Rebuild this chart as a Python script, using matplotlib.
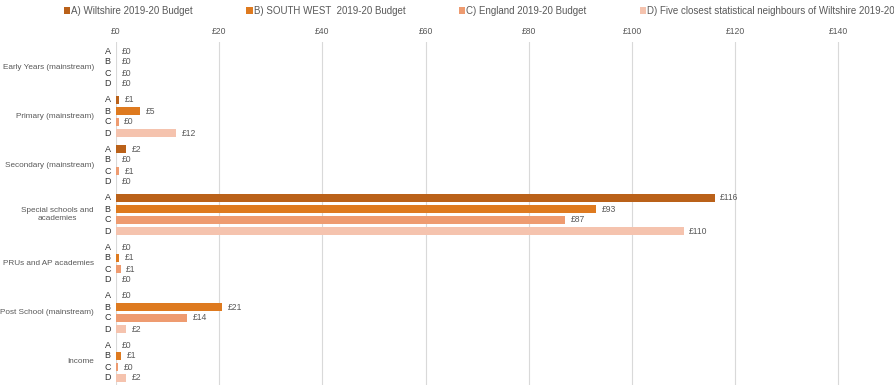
import matplotlib.pyplot as plt
import numpy as np

plt.rcParams['font.family'] = ['Liberation Sans', 'DejaVu Sans']

categories = ['Early Years (mainstream)', 'Primary (mainstream)', 'Secondary (mainstream)',
              'Special schools and\nacademies', 'PRUs and AP academies',
              'Post School (mainstream)', 'Income']
series = ['A) Wiltshire 2019-20 Budget', 'B) SOUTH WEST  2019-20 Budget',
          'C) England 2019-20 Budget',
          'D) Five closest statistical neighbours of Wiltshire 2019-20 Budget']
letters = ['A', 'B', 'C', 'D']

wiltshire = [0.0, 0.6, 2.0, 116.0, 0.0, 0.0, 0.0]
south_west = [0.0, 4.6, 0.0, 93.0, 0.6, 20.6, 1.0]
england = [0.0, 0.5, 0.6, 87.0, 0.9, 13.8, 0.4]
neighbours = [0.0, 11.6, 0.0, 110.0, 0.0, 2.0, 2.0]

colors = ['#BA6119', '#DE7A1F', '#EE9B70', '#F5C3AE']
values = [wiltshire, south_west, england, neighbours]

fig = plt.figure(figsize=(8.94, 3.85), dpi=100)
ax = fig.add_axes([116 / 894, 0, 774 / 894, 343 / 385])

group_gap = 49
bar_gap = 11
for j, (vals, col, lab) in enumerate(zip(values, colors, series)):
    ys = np.arange(len(categories)) * group_gap + j * bar_gap
    ax.barh(ys, vals, height=8, color=col, label=lab, zorder=2)
    for y, v in zip(ys, vals):
        ax.annotate(f'£{v:.0f}', xy=(v, y), xytext=(4, 0), textcoords='offset points',
                    ha='left', va='center', fontsize=6.2, color='#595959')
        ax.annotate(letters[j], xy=(0, y), xycoords=('axes fraction', 'data'),
                    xytext=(-6, 0), textcoords='offset points',
                    ha='center', va='center', fontsize=6.5, color='#333333')

for i, cat in enumerate(categories):
    ax.annotate(cat, xy=(0, i * group_gap + 1.5 * bar_gap), xycoords=('axes fraction', 'data'),
                xytext=(-16, 0), textcoords='offset points', ha='right', va='center',
                multialignment='center', fontsize=5.9, color='#595959')

ax.set_xlim(0, 150)
ax.set_ylim(6 * group_gap + 3 * bar_gap + 7, -9)
ax.set_xticks(np.arange(0, 160, 20))
ax.set_xticklabels([f'£{t}' for t in range(0, 160, 20)])
ax.xaxis.tick_top()
ax.tick_params(axis='x', length=0, labelsize=6.2, labelcolor='#595959', pad=4)
ax.set_yticks([])
ax.grid(axis='x', color='#D9D9D9', linewidth=0.8, zorder=0)
for s in ax.spines.values():
    s.set_visible(False)

fig.legend(loc='upper left', bbox_to_anchor=(64 / 894, 1 - 6 / 385), ncol=4,
           frameon=False, fontsize=7, labelcolor='#595959',
           handlelength=0.65, handleheight=0.65, handletextpad=0.1,
           columnspacing=5.5, borderaxespad=0, borderpad=0)

fig.savefig('out.png', dpi=100)
